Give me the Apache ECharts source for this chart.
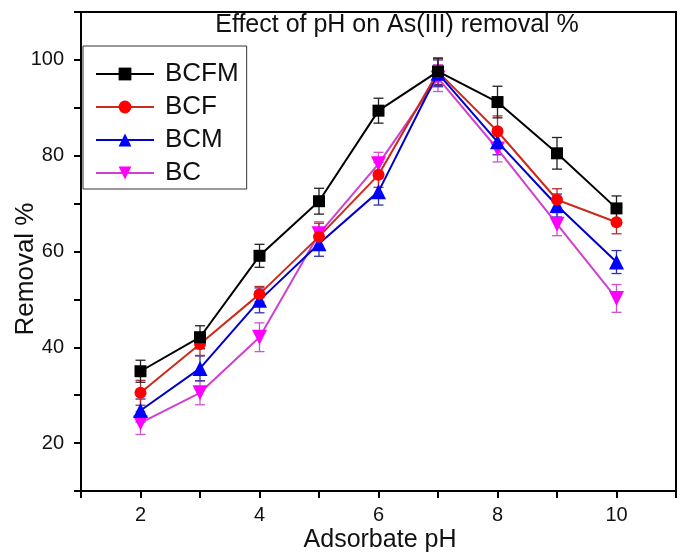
<!DOCTYPE html>
<html>
<head>
<meta charset="utf-8">
<script src="https://cdn.jsdelivr.net/npm/echarts@6/dist/echarts.min.js"></script>
<style>html,body{margin:0;padding:0;background:#fff}#c{width:684px;height:555px}</style>
</head>
<body>
<div id="c"></div>
<script>
const pH = [2, 3, 4, 5, 6, 7, 8, 9, 10];
const BCFM = [35.0, 42.1, 59.1, 70.5, 89.4, 97.6, 91.2, 80.5, 69.0];
const BCF  = [30.5, 40.7, 51.1, 63.1, 76.0, 97.5, 85.1, 70.8, 66.1];
const BCM  = [26.8, 35.6, 49.8, 61.6, 72.5, 97.2, 82.9, 69.6, 57.8];
const BC   = [24.2, 30.5, 42.1, 63.7, 78.3, 96.2, 81.4, 65.7, 50.2];
const errBCFM = [2.3, 2.4, 2.4, 2.7, 2.6, 2.8, 3.3, 3.3, 2.6];
const errBCF  = [2.6, 2.4, 1.6, 2.8, 2.6, 2.8, 3.2, 2.3, 2.4];
const errBCM  = [2.4, 2.6, 2.6, 2.6, 2.8, 2.8, 2.7, 2.4, 2.4];
const errBC   = [2.4, 2.5, 3.0, 2.5, 2.4, 2.8, 2.7, 2.4, 2.9];
const xTickLabels = [2, 4, 6, 8, 10];
const yTickLabels = [20, 40, 60, 80, 100];

const FONT = '"Liberation Sans", Arial, sans-serif';
const chart = echarts.init(document.getElementById('c'), null, {renderer: 'canvas'});

function lineSeries(name, vals, lineColor, symColor, symbol, size, rotate) {
  return {
    name, type: 'line', z: 3,
    data: pH.map((x, i) => [x, vals[i]]),
    symbol, symbolSize: size, symbolRotate: rotate || 0,
    lineStyle: {color: lineColor, width: 2},
    itemStyle: {color: symColor},
    emphasis: {disabled: true}
  };
}
function errSeries(vals, errs, color) {
  return {
    type: 'custom', z: 2, silent: true,
    data: pH.map((x, i) => [x, vals[i] - errs[i], vals[i] + errs[i]]),
    encode: {x: 0, y: [1, 2]},
    renderItem: function (params, api) {
      const x = api.value(0);
      const lo = api.coord([x, api.value(1)]);
      const hi = api.coord([x, api.value(2)]);
      const w = 5;
      const st = {stroke: color, lineWidth: 1.3};
      return {type: 'group', children: [
        {type: 'line', shape: {x1: lo[0], y1: lo[1], x2: hi[0], y2: hi[1]}, style: st},
        {type: 'line', shape: {x1: lo[0] - w, y1: lo[1], x2: lo[0] + w, y2: lo[1]}, style: st},
        {type: 'line', shape: {x1: hi[0] - w, y1: hi[1], x2: hi[0] + w, y2: hi[1]}, style: st}
      ]};
    }
  };
}

const option = {
  animation: false,
  backgroundColor: '#fff',
  grid: {left: 81, right: 8, top: 12, bottom: 64, show: true, borderColor: '#000', borderWidth: 2, backgroundColor: 'transparent'},
  xAxis: {
    type: 'value', min: 1, max: 11, interval: 1,
    axisLine: {lineStyle: {color: '#000', width: 2}},
    axisTick: {inside: false, length: 7, lineStyle: {color: '#000', width: 2}},
    splitLine: {show: false},
    axisLabel: {margin: 14, color: '#111', fontFamily: FONT, fontSize: 20,
      formatter: v => xTickLabels.includes(v) ? String(v) : ''}
  },
  yAxis: {
    type: 'value', min: 10, max: 110, interval: 10,
    axisLine: {lineStyle: {color: '#000', width: 2}},
    axisTick: {inside: false, length: 7, lineStyle: {color: '#000', width: 2}},
    splitLine: {show: false},
    axisLabel: {margin: 17, color: '#111', fontFamily: FONT, fontSize: 20,
      formatter: v => yTickLabels.includes(v) ? String(v) : ''}
  },
  legend: {
    left: 83, top: 46, orient: 'vertical',
    data: ['BCFM', 'BCF', 'BCM', 'BC'],
    itemWidth: 58, itemHeight: 16, itemGap: 7,
    padding: [15, 8, 3, 12],
    borderColor: '#333', borderWidth: 1, backgroundColor: '#fff',
    textStyle: {fontFamily: FONT, fontSize: 26, color: '#111', lineHeight: 26, padding: [0, 0, 0, 6]}
  },
  graphic: [
    {type: 'text', x: 397, y: 25, style: {text: 'Effect of pH on As(III) removal %', fill: '#111', font: '25px ' + FONT, textAlign: 'center', textVerticalAlign: 'middle'}},
    {type: 'text', x: 26, y: 269, rotation: Math.PI / 2, style: {text: 'Removal %', fill: '#111', font: '26px ' + FONT, textAlign: 'center', textVerticalAlign: 'middle'}},
    {type: 'text', x: 380, y: 540, style: {text: 'Adsorbate pH', fill: '#111', font: '25px ' + FONT, textAlign: 'center', textVerticalAlign: 'middle'}}
  ],
  series: [
    errSeries(BC, errBC, '#cc55cc'),
    errSeries(BCM, errBCM, '#3030b0'),
    errSeries(BCF, errBCF, '#b03030'),
    errSeries(BCFM, errBCFM, '#222'),
    lineSeries('BC', BC, '#d040d0', '#ff00ff', 'triangle', 15, 180),
    lineSeries('BCM', BCM, '#0000cc', '#0000ff', 'triangle', 15),
    lineSeries('BCF', BCF, '#cc2a1a', '#ff0000', 'circle', 12),
    lineSeries('BCFM', BCFM, '#000', '#000', 'rect', 12)
  ]
};
chart.setOption(option);
</script>
</body>
</html>
